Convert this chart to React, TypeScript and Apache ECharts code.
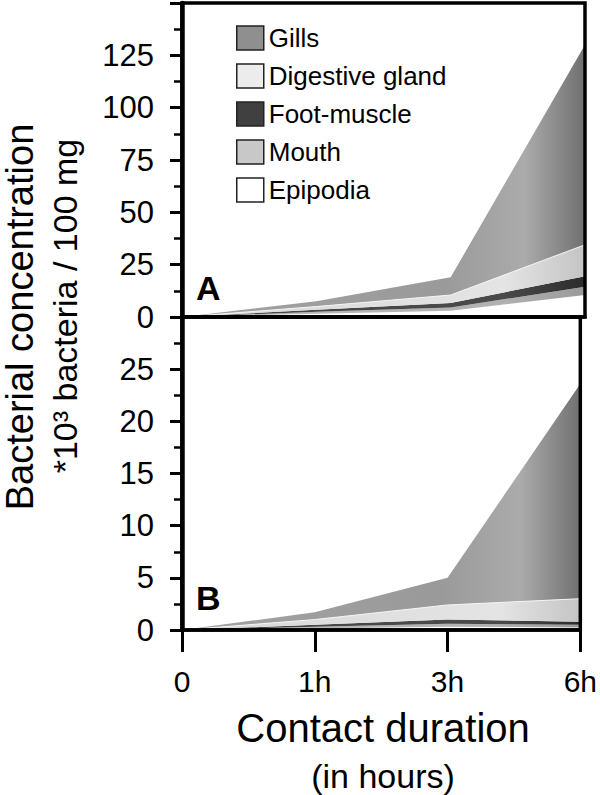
import React, { useEffect, useRef } from "react";
import * as echarts from "echarts";

// ---- data ----
const categories = ["0", "1h", "3h", "6h"];
const legendOrder = ["Gills", "Digestive gland", "Foot-muscle", "Mouth", "Epipodia"];
// stacking order bottom -> top
const stackOrder = ["Epipodia", "Mouth", "Foot-muscle", "Digestive gland", "Gills"];

// Panel A (values per tissue, *10^3 bacteria / 100 mg)
const aEpipodia = [0, 1.5, 3, 10.5];
const aMouth = [0, 1, 1.5, 4];
const aFootMuscle = [0, 1, 2.2, 5];
const aDigestiveGland = [0, 1.5, 3.8, 15];
const aGills = [0, 2.5, 8.5, 95.5];

// Panel B
const bEpipodia = [0, 0.15, 0.3, 0.25];
const bMouth = [0, 0.15, 0.3, 0.25];
const bFootMuscle = [0, 0.2, 0.4, 0.3];
const bDigestiveGland = [0, 0.5, 1.4, 2.2];
const bGills = [0, 0.7, 2.6, 20.6];

const panelA: Record<string, number[]> = {
  Epipodia: aEpipodia,
  Mouth: aMouth,
  "Foot-muscle": aFootMuscle,
  "Digestive gland": aDigestiveGland,
  Gills: aGills,
};
const panelB: Record<string, number[]> = {
  Epipodia: bEpipodia,
  Mouth: bMouth,
  "Foot-muscle": bFootMuscle,
  "Digestive gland": bDigestiveGland,
  Gills: bGills,
};

const FF = "'Liberation Sans', Arial, Helvetica, sans-serif";

const legendColors: Record<string, string> = {
  Gills: "#8f8f8f",
  "Digestive gland": "#ececec",
  "Foot-muscle": "#404040",
  Mouth: "#c8c8c8",
  Epipodia: "#ffffff",
};

function areaFill(name: string) {
  const G = echarts.graphic.LinearGradient;
  switch (name) {
    case "Gills":
      return new G(0, 0, 1, 0, [
        { offset: 0, color: "#a2a2a2" },
        { offset: 0.65, color: "#9a9a9a" },
        { offset: 0.85, color: "#ababab" },
        { offset: 1, color: "#707070" },
      ]);
    case "Digestive gland":
      return new G(0, 0, 1, 0, [
        { offset: 0, color: "#d8d8d8" },
        { offset: 0.8, color: "#e4e4e4" },
        { offset: 1, color: "#c4c4c4" },
      ]);
    case "Foot-muscle":
      return new G(0, 0, 1, 0, [
        { offset: 0, color: "#444444" },
        { offset: 0.8, color: "#4a4a4a" },
        { offset: 1, color: "#2c2c2c" },
      ]);
    case "Mouth":
      return new G(0, 0, 1, 0, [
        { offset: 0, color: "#bdbdbd" },
        { offset: 0.8, color: "#b0b0b0" },
        { offset: 1, color: "#9a9a9a" },
      ]);
    default:
      return "#ffffff";
  }
}

const mkAxisLine = (show: boolean, width: number) => ({
  show,
  onZero: false,
  lineStyle: { color: "#000000", width, opacity: 1 },
});

export default function App() {
  const ref = useRef<HTMLDivElement>(null);

  useEffect(() => {
    if (!ref.current) return;
    const chart = echarts.init(ref.current, undefined, { renderer: "svg" });

    const series: any[] = [];
    [panelA, panelB].forEach((panel, gi) => {
      stackOrder.forEach((name) => {
        series.push({
          type: "line",
          name,
          xAxisIndex: gi,
          yAxisIndex: gi,
          stack: gi === 0 ? "A" : "B",
          data: panel[name],
          symbol: "none",
          showSymbol: false,
          smooth: false,
          z: 2,
          lineStyle: {
            width: name === "Digestive gland" ? 1 : 0,
            color: "#f4f4f4",
          },
          itemStyle: { color: legendColors[name] },
          areaStyle: { color: areaFill(name), opacity: 1 },
          emphasis: { disabled: true },
          silent: true,
        });
      });
    });

    const yBase = (gi: number, max: number, interval: number) => ({
      type: "value",
      gridIndex: gi,
      min: 0,
      max,
      interval,
      z: 20,
      axisLine: mkAxisLine(true, 4.5),
      axisTick: { show: true, length: 12, lineStyle: { color: "#000000", width: 3 } },
      minorTick: { show: true, splitNumber: 2, length: 8, lineStyle: { color: "#000000", width: 2.5 } },
      axisLabel: {
        show: true,
        showMaxLabel: false,
        fontSize: 31,
        fontFamily: FF,
        color: "#000",
        margin: 28,
      },
      splitLine: { show: false },
      minorSplitLine: { show: false },
    });

    const gridBox = (top: number, height: number) => ({
      left: 182,
      right: 15,
      top,
      height,
      containLabel: false,
      show: true,
      z: 10,
      backgroundColor: "transparent",
      borderColor: "#000000",
      borderWidth: 3.5,
    });

    const option: any = {
      animation: false,
      backgroundColor: "#ffffff",
      textStyle: { fontFamily: FF },
      grid: [gridBox(3, 314), gridBox(317, 313)],
      legend: {
        show: true,
        orient: "vertical",
        left: 236,
        top: 25,
        padding: 0,
        itemWidth: 27,
        itemHeight: 24,
        itemGap: 12,
        icon: "rect",
        selectedMode: false,
        textStyle: { fontSize: 26, fontFamily: FF, color: "#000" },
        itemStyle: { borderColor: "#222", borderWidth: 1.5 },
        data: legendOrder.map((n) => ({
          name: n,
          icon: "rect",
          itemStyle: { color: legendColors[n], borderColor: "#222", borderWidth: 1.5 },
        })),
      },
      xAxis: [
        {
          type: "category",
          gridIndex: 0,
          data: categories,
          boundaryGap: false,
          z: 20,
          axisLine: mkAxisLine(true, 3.5),
          axisTick: { show: false },
          axisLabel: { show: false },
          splitLine: { show: false },
        },
        {
          type: "category",
          gridIndex: 1,
          data: categories,
          boundaryGap: false,
          z: 20,
          axisLine: mkAxisLine(true, 3.5),
          axisTick: { show: true, length: 22, lineStyle: { color: "#000000", width: 3 } },
          axisLabel: { show: true, fontSize: 30, fontFamily: FF, color: "#000", margin: 36 },
          splitLine: { show: false },
        },
      ],
      yAxis: [yBase(0, 150, 25), yBase(1, 30, 5)],
      series,
      graphic: [
        {
          type: "text",
          x: 20,
          y: 317,
          rotation: Math.PI / 2,
          style: {
            text: "Bacterial concentration",
            fontSize: 38,
            fontFamily: FF,
            fill: "#000",
            align: "center",
            verticalAlign: "middle",
            textAlign: "center",
            textVerticalAlign: "middle",
          },
        },
        {
          type: "text",
          x: 65,
          y: 306,
          rotation: Math.PI / 2,
          style: {
            text: "*10³ bacteria / 100 mg",
            fontSize: 34,
            fontFamily: FF,
            fill: "#000",
            align: "center",
            verticalAlign: "middle",
            textAlign: "center",
            textVerticalAlign: "middle",
          },
        },
        {
          type: "text",
          x: 383,
          y: 728,
          style: {
            text: "Contact duration",
            fontSize: 40,
            fontFamily: FF,
            fill: "#000",
            align: "center",
            verticalAlign: "middle",
            textAlign: "center",
            textVerticalAlign: "middle",
          },
        },
        {
          type: "text",
          x: 383,
          y: 776,
          style: {
            text: "(in hours)",
            fontSize: 34,
            fontFamily: FF,
            fill: "#000",
            align: "center",
            verticalAlign: "middle",
            textAlign: "center",
            textVerticalAlign: "middle",
          },
        },
        {
          type: "text",
          x: 196,
          y: 288,
          z: 100,
          style: {
            text: "A",
            fontSize: 34,
            fontWeight: "bold",
            fontFamily: FF,
            fill: "#000",
            align: "left",
            verticalAlign: "middle",
            textAlign: "left",
            textVerticalAlign: "middle",
          },
        },
        {
          type: "text",
          x: 196,
          y: 598,
          z: 100,
          style: {
            text: "B",
            fontSize: 34,
            fontWeight: "bold",
            fontFamily: FF,
            fill: "#000",
            align: "left",
            verticalAlign: "middle",
            textAlign: "left",
            textVerticalAlign: "middle",
          },
        },
      ],
    };

    chart.setOption(option);
    return () => chart.dispose();
  }, []);

  return (
    <div
      ref={ref}
      style={{ position: "fixed", left: 0, top: 0, width: 600, height: 795, background: "#fff" }}
    />
  );
}
